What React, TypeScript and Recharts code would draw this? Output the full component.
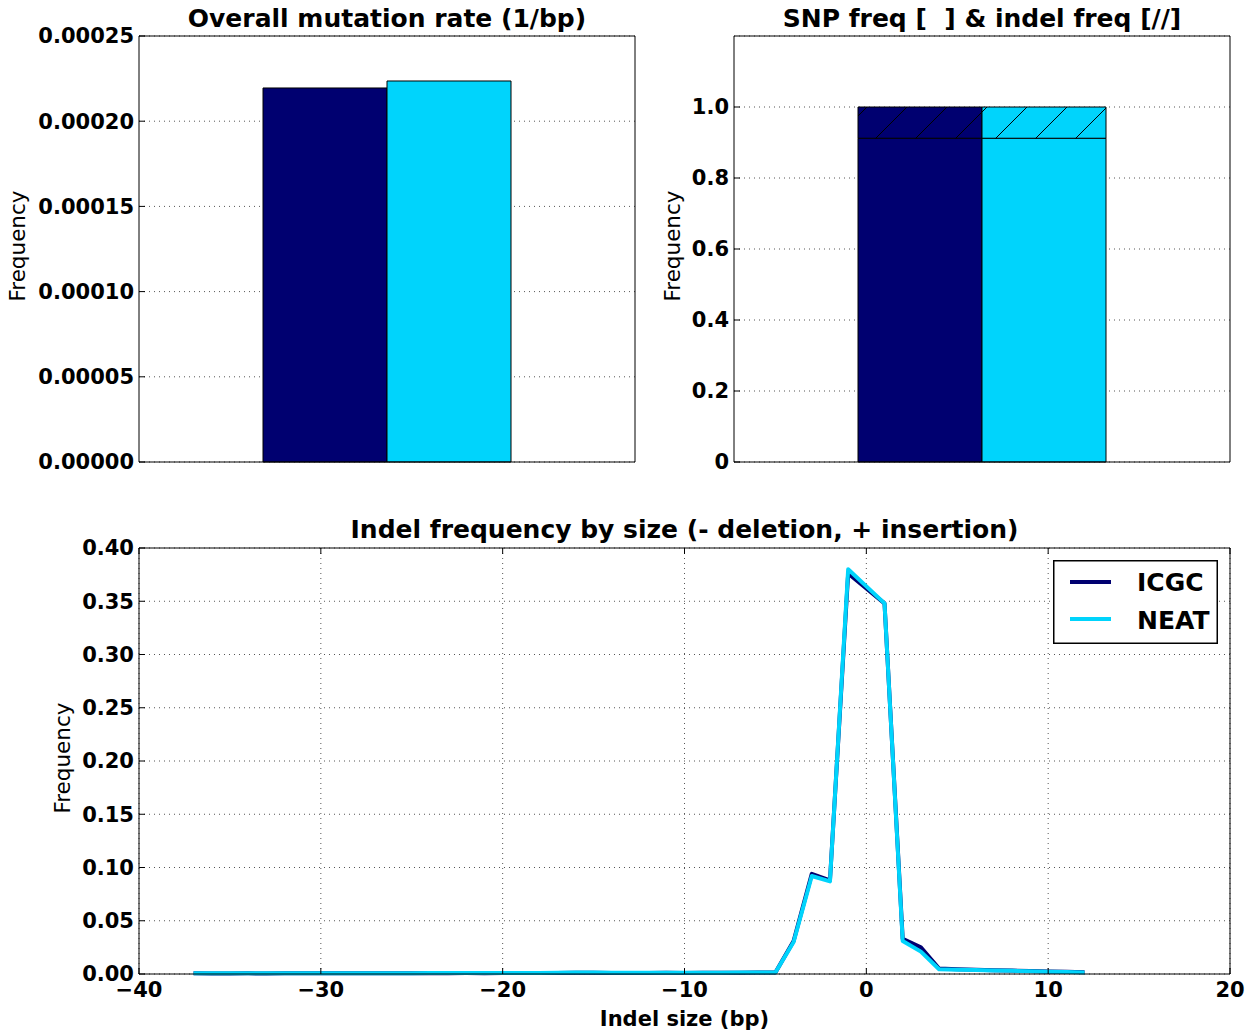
import React from 'react';
import { BarChart, Bar, XAxis, YAxis, CartesianGrid, LineChart, Line, Legend } from 'recharts';

// ---------- data ----------
const sources = ['ICGC', 'NEAT'];
const overallRate = [0.0002195, 0.0002236];
const snpFreq = [0.912, 0.912];
const indelFreq = [0.088, 0.088];

const rateTicks = [0, 0.00005, 0.0001, 0.00015, 0.0002, 0.00025];
const freqTicks = [0, 0.2, 0.4, 0.6, 0.8, 1.0];
const indelTicksX = [-40, -30, -20, -10, 0, 10, 20];
const indelTicksY = [0, 0.05, 0.1, 0.15, 0.2, 0.25, 0.3, 0.35, 0.4];

const indelSizes = [
  -37, -36, -35, -34, -33, -32, -31, -30, -29, -28, -27, -26, -25, -24, -23, -22, -21, -20,
  -19, -18, -17, -16, -15, -14, -13, -12, -11, -10, -9, -8, -7, -6, -5, -4, -3, -2, -1,
  1, 2, 3, 4, 5, 6, 7, 8, 9, 10, 11, 12,
];
const icgcIndel = [
  0.0006, 0.0005, 0.0005, 0.0006, 0.0005, 0.0006, 0.0006, 0.0007, 0.0006, 0.0007, 0.0007, 0.0008,
  0.0007, 0.0008, 0.0008, 0.0009, 0.0008, 0.0009, 0.0009, 0.001, 0.0009, 0.0011, 0.0012, 0.001,
  0.0009, 0.001, 0.0011, 0.001, 0.0011, 0.0012, 0.0012, 0.0013, 0.0014, 0.031, 0.094, 0.088, 0.376,
  0.348, 0.033, 0.025, 0.0052, 0.0045, 0.004, 0.0036, 0.0032, 0.0028, 0.0024, 0.002, 0.0016,
];
const neatIndel = [
  0.0007, 0.0006, 0.0006, 0.0006, 0.0006, 0.0007, 0.0007, 0.0007, 0.0007, 0.0008, 0.0008, 0.0008,
  0.0008, 0.0009, 0.0009, 0.0009, 0.0009, 0.001, 0.001, 0.001, 0.0011, 0.0013, 0.0014, 0.0012,
  0.0011, 0.0011, 0.0011, 0.0011, 0.0012, 0.0012, 0.0013, 0.0013, 0.0014, 0.03, 0.092, 0.087, 0.38,
  0.348, 0.031, 0.021, 0.0045, 0.004, 0.0037, 0.0033, 0.003, 0.0026, 0.0022, 0.0018, 0.0014,
];

// ---------- derived tables ----------
const rateData = [{ name: 'rate', ICGC: overallRate[0], NEAT: overallRate[1] }];
const snpData = [
  {
    name: 'freq',
    icgcSnp: snpFreq[0],
    icgcIndel: indelFreq[0],
    neatSnp: snpFreq[1],
    neatIndel: indelFreq[1],
  },
];
const indelData = indelSizes.map((s, i) => ({ size: s, ICGC: icgcIndel[i], NEAT: neatIndel[i] }));

// ---------- styles ----------
const NAVY = '#000070';
const CYAN = '#00d4fc';
const FONT = 'DejaVu Sans';
const tickStyle = { fill: '#000', fontSize: 21, fontWeight: 'bold', fontFamily: FONT };
const gridProps = { stroke: '#555', strokeDasharray: '1 4', strokeWidth: 1 };
const black = { stroke: '#000', strokeWidth: 1 };

const titleLabel = (text: string, dy: number) => ({
  content: (p: any) => {
    const vb = p.viewBox || {};
    return (
      <text
        x={vb.x + vb.width / 2}
        y={vb.y - dy}
        textAnchor="middle"
        fontFamily={FONT}
        fontWeight="bold"
        fontSize={25}
        fill="#000"
        style={{ whiteSpace: 'pre' }}
        xmlSpace="preserve"
      >
        {text}
      </text>
    );
  },
});

const freqLabel = (dx: number) => ({
  content: (p: any) => {
    const vb = p.viewBox || {};
    const x = vb.x + dx;
    const y = vb.y + vb.height / 2 - 3;
    return (
      <text
        x={x}
        y={y}
        transform={`rotate(-90 ${x} ${y})`}
        textAnchor="middle"
        fontFamily={FONT}
        fontSize={21.5}
        fill="#000"
      >
        Frequency
      </text>
    );
  },
});

const xLabel = {
  content: (p: any) => {
    const vb = p.viewBox || {};
    return (
      <text
        x={vb.x + vb.width / 2}
        y={vb.y + 52}
        textAnchor="middle"
        fontFamily={FONT}
        fontWeight="bold"
        fontSize={21}
        fill="#000"
      >
        Indel size (bp)
      </text>
    );
  },
};

const minusFmt = (v: number) => (v < 0 ? '\u2212' + Math.abs(v) : String(v));

const renderLegend = (props: any) => {
  const payload = (props.payload || []) as any[];
  return (
    <svg width={165} height={84} style={{ display: 'block' }}>
      <rect x={0.75} y={0.75} width={163.5} height={82.5} fill="#fff" stroke="#000" strokeWidth={1.5} />
      {payload.map((entry, i) => (
        <g key={entry.value}>
          <line x1={17} x2={58} y1={22 + i * 37} y2={22 + i * 37} stroke={entry.color} strokeWidth={4} />
          <text
            x={84}
            y={31 + i * 38}
            fontFamily={FONT}
            fontWeight="bold"
            fontSize={25}
            fill="#000"
          >
            {entry.value}
          </text>
        </g>
      ))}
    </svg>
  );
};

export default function App() {
  return (
    <div
      style={{
        position: 'absolute',
        left: 0,
        top: 0,
        width: 1253,
        height: 1033,
        background: '#fff',
        fontFamily: FONT,
      }}
    >
      <svg width={0} height={0} style={{ position: 'absolute' }}>
        <defs>
          <pattern id="hatchNavy" patternUnits="userSpaceOnUse" x={14} y={0} width={40} height={40}>
            <rect width={40} height={40} fill={NAVY} />
            <path d="M0,40 L40,0 M-2,2 L2,-2 M38,42 L42,38" stroke="#000" strokeWidth={1} />
          </pattern>
          <pattern id="hatchCyan" patternUnits="userSpaceOnUse" x={14} y={0} width={40} height={40}>
            <rect width={40} height={40} fill={CYAN} />
            <path d="M0,40 L40,0 M-2,2 L2,-2 M38,42 L42,38" stroke="#000" strokeWidth={1} />
          </pattern>
        </defs>
      </svg>

      {/* Chart 1: overall mutation rate */}
      <div style={{ position: 'absolute', left: 0, top: 0 }}>
        <BarChart
          width={640}
          height={480}
          data={rateData}
          margin={{ top: 35, right: 4, bottom: 17, left: 0 }}
          barCategoryGap="25%"
          barGap={0}
        >
          <CartesianGrid vertical={false} {...gridProps} />
          <XAxis dataKey="name" tick={false} tickLine={false} height={1} axisLine={black} />
          <XAxis
            xAxisId="top"
            orientation="top"
            dataKey="name"
            tick={false}
            tickLine={false}
            height={1}
            axisLine={black}
            label={titleLabel('Overall mutation rate (1/bp)', 8)}
          />
          <YAxis
            domain={[0, 0.00025]}
            ticks={rateTicks}
            width={139}
            tickSize={-6}
            tickMargin={11}
            tickFormatter={(v: number) => v.toFixed(5)}
            tick={tickStyle}
            axisLine={black}
            tickLine={black}
            interval={0}
            label={freqLabel(25)}
          />
          <YAxis
            yAxisId="right"
            orientation="right"
            domain={[0, 0.00025]}
            ticks={rateTicks}
            width={1}
            tickSize={-6}
            tickFormatter={() => ''}
            axisLine={black}
            tickLine={black}
            interval={0}
          />
          <Bar dataKey="ICGC" name={sources[0]} fill={NAVY} stroke="#000" strokeWidth={1} isAnimationActive={false} />
          <Bar dataKey="NEAT" name={sources[1]} fill={CYAN} stroke="#000" strokeWidth={1} isAnimationActive={false} />
        </BarChart>
      </div>

      {/* Chart 2: SNP & indel freq */}
      <div style={{ position: 'absolute', left: 640, top: 0 }}>
        <BarChart
          width={613}
          height={480}
          data={snpData}
          margin={{ top: 35, right: 22, bottom: 17, left: 0 }}
          barCategoryGap="25%"
          barGap={0}
        >
          <CartesianGrid vertical={false} {...gridProps} />
          <XAxis dataKey="name" tick={false} tickLine={false} height={1} axisLine={black} />
          <XAxis
            xAxisId="top"
            orientation="top"
            dataKey="name"
            tick={false}
            tickLine={false}
            height={1}
            axisLine={black}
            label={titleLabel('SNP freq [  ] & indel freq [//]', 8)}
          />
          <YAxis
            domain={[0, 1.2]}
            ticks={freqTicks}
            width={94}
            tickSize={-6}
            tickMargin={11}
            tickFormatter={(v: number) => (v === 0 ? '0' : v.toFixed(1))}
            tick={tickStyle}
            axisLine={black}
            tickLine={black}
            interval={0}
            label={freqLabel(40)}
          />
          <YAxis
            yAxisId="right"
            orientation="right"
            domain={[0, 1.2]}
            ticks={freqTicks}
            width={1}
            tickSize={-6}
            tickFormatter={() => ''}
            axisLine={black}
            tickLine={black}
            interval={0}
          />
          <Bar dataKey="icgcSnp" stackId="icgc" fill={NAVY} stroke="#000" strokeWidth={1} isAnimationActive={false} />
          <Bar dataKey="icgcIndel" stackId="icgc" fill="url(#hatchNavy)" stroke="#000" strokeWidth={1} isAnimationActive={false} />
          <Bar dataKey="neatSnp" stackId="neat" fill={CYAN} stroke="#000" strokeWidth={1} isAnimationActive={false} />
          <Bar dataKey="neatIndel" stackId="neat" fill="url(#hatchCyan)" stroke="#000" strokeWidth={1} isAnimationActive={false} />
        </BarChart>
      </div>

      {/* Chart 3: indel frequency by size */}
      <div style={{ position: 'absolute', left: 0, top: 480 }}>
        <LineChart
          width={1253}
          height={553}
          data={indelData}
          margin={{ top: 67, right: 22, bottom: 0, left: 0 }}
        >
          <CartesianGrid {...gridProps} />
          <XAxis
            dataKey="size"
            type="number"
            domain={[-40, 20]}
            ticks={indelTicksX}
            interval={0}
            height={59}
            tickSize={-6}
            tickMargin={14}
            tickFormatter={minusFmt}
            tick={tickStyle}
            axisLine={black}
            tickLine={black}
            label={xLabel}
          />
          <XAxis
            xAxisId="top"
            orientation="top"
            dataKey="size"
            type="number"
            domain={[-40, 20]}
            ticks={indelTicksX}
            interval={0}
            height={1}
            tickSize={-6}
            tickFormatter={() => ''}
            axisLine={black}
            tickLine={black}
            label={titleLabel('Indel frequency by size (- deletion, + insertion)', 9)}
          />
          <YAxis
            domain={[0, 0.4]}
            ticks={indelTicksY}
            width={139}
            interval={0}
            tickSize={-6}
            tickMargin={11}
            tickFormatter={(v: number) => v.toFixed(2)}
            tick={tickStyle}
            axisLine={black}
            tickLine={black}
            label={freqLabel(70)}
          />
          <YAxis
            yAxisId="right"
            orientation="right"
            domain={[0, 0.4]}
            ticks={indelTicksY}
            width={1}
            interval={0}
            tickSize={-6}
            tickFormatter={() => ''}
            axisLine={black}
            tickLine={black}
          />
          <Line
            type="linear"
            dataKey="ICGC"
            name={sources[0]}
            stroke={NAVY}
            strokeWidth={4}
            strokeLinejoin="round"
            dot={false}
            activeDot={false}
            isAnimationActive={false}
          />
          <Line
            type="linear"
            dataKey="NEAT"
            name={sources[1]}
            stroke={CYAN}
            strokeWidth={4}
            strokeLinejoin="round"
            dot={false}
            activeDot={false}
            isAnimationActive={false}
          />
          <Legend
            layout="horizontal"
            verticalAlign="middle"
            align="center"
            content={renderLegend}
            wrapperStyle={{ position: 'absolute', left: 1053, top: 80, width: 165, height: 84 }}
          />
        </LineChart>
      </div>
    </div>
  );
}
